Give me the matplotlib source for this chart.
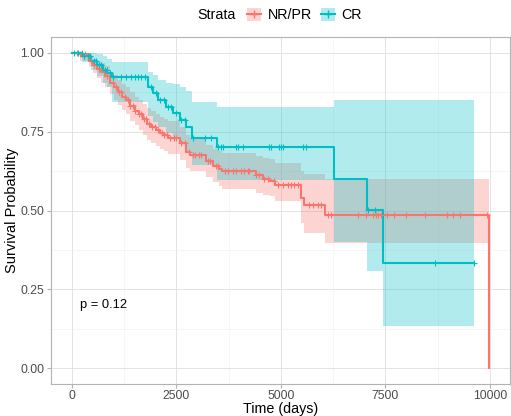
import numpy as np
import matplotlib
matplotlib.use("Agg")
import matplotlib.pyplot as plt
from matplotlib.patches import Patch
from matplotlib.lines import Line2D

plt.rcParams['font.family'] = ['Liberation Sans', 'DejaVu Sans']

# ---------------- data ----------------
strata = ["NR/PR", "CR"]
colors = ["#F8766D", "#00BFC4"]

# NR/PR Kaplan-Meier step curve
nr_time = [0, 200, 400, 500, 600, 700, 800, 900, 1000, 1100, 1200, 1300, 1400, 1500,
           1600, 1700, 1800, 1900, 2000, 2100, 2200, 2300, 2580, 2740, 2830, 3200,
           3370, 3530, 3600, 4408, 4570, 4730, 4850, 5480, 5560, 6060, 9980]
nr_surv = [1.0, 0.995, 0.975, 0.96, 0.95, 0.94, 0.925, 0.905, 0.89, 0.875, 0.86, 0.85,
           0.83, 0.815, 0.805, 0.79, 0.775, 0.765, 0.755, 0.745, 0.74, 0.73, 0.714, 0.687,
           0.675, 0.656, 0.64, 0.63, 0.624, 0.614, 0.60, 0.593, 0.582, 0.54, 0.519, 0.487, 0.0]
nr_lower = [1.0, 0.975, 0.955, 0.935, 0.92, 0.905, 0.89, 0.87, 0.85, 0.835, 0.82, 0.805,
            0.785, 0.77, 0.755, 0.74, 0.725, 0.715, 0.705, 0.695, 0.69, 0.68, 0.66, 0.635,
            0.624, 0.605, 0.59, 0.578, 0.568, 0.555, 0.548, 0.545, 0.53, 0.461, 0.43, 0.398, 0.398]
nr_upper = [1.0, 1.0, 0.99, 0.98, 0.975, 0.968, 0.958, 0.94, 0.928, 0.915, 0.9, 0.89,
            0.875, 0.86, 0.85, 0.837, 0.825, 0.815, 0.805, 0.795, 0.79, 0.784, 0.765, 0.74,
            0.728, 0.708, 0.695, 0.688, 0.682, 0.672, 0.668, 0.662, 0.65, 0.625, 0.615, 0.60, 0.60]
nr_censor = [120, 200, 250, 320, 450, 520, 640, 760, 850, 980, 1050, 1120, 1180, 1260,
             1330, 1400, 1450, 1520, 1600, 1650, 1720, 1780, 1850, 1920, 1980, 2050, 2150,
             2210, 2280, 2350, 2450, 2500, 2620, 2700, 2800, 2900, 2950, 3050, 3100, 3250,
             3300, 3450, 3500, 3652, 3731, 3851, 3930, 4049, 4128, 4208, 4248, 4408, 4487,
             4600, 4700, 4845, 4924, 5043, 5163, 5243, 5322, 5401, 5680, 5760, 5879, 5959,
             6117, 6198, 6833, 7033, 7208, 7272, 7334, 7391, 7549, 7709, 8003, 8449, 8967,
             9124, 9277, 9921]

# CR Kaplan-Meier step curve
cr_time = [0, 250, 450, 600, 750, 850, 950, 1814, 1940, 2060, 2260, 2420, 2578, 2737,
           2870, 3460, 6260, 7060, 7430, 9620]
cr_surv = [1.0, 0.99, 0.975, 0.96, 0.945, 0.935, 0.924, 0.893, 0.872, 0.85, 0.829, 0.808,
           0.787, 0.766, 0.731, 0.701, 0.60, 0.503, 0.335, 0.335]
cr_lower = [1.0, 0.97, 0.945, 0.925, 0.905, 0.89, 0.845, 0.80, 0.78, 0.765, 0.745, 0.73,
            0.71, 0.685, 0.645, 0.598, 0.40, 0.308, 0.135, 0.135]
cr_upper = [1.0, 1.0, 1.0, 0.995, 0.99, 0.98, 0.97, 0.94, 0.93, 0.914, 0.905, 0.90,
            0.89, 0.88, 0.845, 0.829, 0.85, 0.85, 0.85, 0.85]
cr_censor = [60, 150, 230, 300, 380, 430, 520, 580, 650, 700, 780, 830, 900, 980, 1185,
             1305, 1425, 1504, 1582, 1663, 1742, 1900, 2000, 2100, 2200, 2300, 2380, 2500,
             2620, 2700, 2896, 3174, 3334, 3492, 3572, 3611, 3930, 3969, 4088, 4726, 4766,
             4964, 5004, 5043, 5520, 5601, 7072, 7255, 8687, 9620]

p_text = "p = 0.12"
x_ticks = [0, 2500, 5000, 7500, 10000]
y_ticks = [0.00, 0.25, 0.50, 0.75, 1.00]

# ---------------- figure ----------------
W, H = 511, 416
fig = plt.figure(figsize=(W / 100, H / 100), dpi=100)
ax = fig.add_axes([51 / W, 1 - 384 / H, (510 - 51) / W, (384 - 37) / H])

groups = [
    (nr_time, nr_surv, nr_lower, nr_upper, nr_censor),
    (cr_time, cr_surv, cr_lower, cr_upper, cr_censor),
]
for (t, s, lo, hi, cens), col in zip(groups, colors):
    t = np.asarray(t, float)
    ax.fill_between(t, lo, hi, step='post', color=col, alpha=0.3, lw=0, zorder=2)
for (t, s, lo, hi, cens), col in zip(groups, colors):
    t = np.asarray(t, float)
    s = np.asarray(s, float)
    ax.step(t, s, where='post', color=col, lw=1.5, zorder=3)
    c = np.asarray(cens, float)
    idx = np.searchsorted(t, c, side='right') - 1
    ax.plot(c, s[idx], ls='none', marker='+', color=col, ms=5, mew=0.8, zorder=4)

ax.text(200, 0.2, p_text, ha='left', va='center', fontsize=9.3, color='black')

ax.set_xlim(-500, 10480)
ax.set_ylim(-0.05, 1.05)
ax.set_xticks(x_ticks)
ax.set_xticklabels([str(v) for v in x_ticks])
ax.set_yticks(y_ticks)
ax.set_yticklabels([f"{v:.2f}" for v in y_ticks])
ax.set_xticks([1250, 3750, 6250, 8750], minor=True)
ax.set_yticks([0.125, 0.375, 0.625, 0.875], minor=True)
ax.grid(which='major', color='#DEDEDE', lw=0.6)
ax.grid(which='minor', color='#EFEFEF', lw=0.4)
ax.set_axisbelow(True)
for sp in ax.spines.values():
    sp.set_color('#B3B3B3')
    sp.set_linewidth(0.8)
ax.tick_params(which='major', length=3, color='#B3B3B3', labelsize=8.8, labelcolor='#4D4D4D', pad=2)
ax.tick_params(axis='x', which='major', pad=1.5)
ax.tick_params(which='minor', length=0)

fig.text((51 + 510) / 2 / W, 1 - 413.5 / H, "Time (days)", fontsize=10.3, ha='center',
         va='baseline')
fig.text(12 / W, 1 - 210 / H, "Survival Probability", fontsize=10.5, ha='center', va='center',
         rotation=90)

# legend on top
handles = [(Patch(facecolor=c, alpha=0.3, edgecolor='none'),
            Line2D([], [], color=c, lw=1.5, marker='+', ms=6)) for c in colors]
fig.text(197 / W, 1 - 15 / H, "Strata", fontsize=10.3, ha='left', va='center')
fig.legend(handles, strata, loc='center left', bbox_to_anchor=(247 / W, 1 - 15 / H),
           ncol=2, frameon=False, fontsize=10.3, handlelength=1.0, handleheight=1.0,
           handletextpad=0.45, columnspacing=0.6, borderpad=0, borderaxespad=0)

fig.savefig("out.png", dpi=100)
